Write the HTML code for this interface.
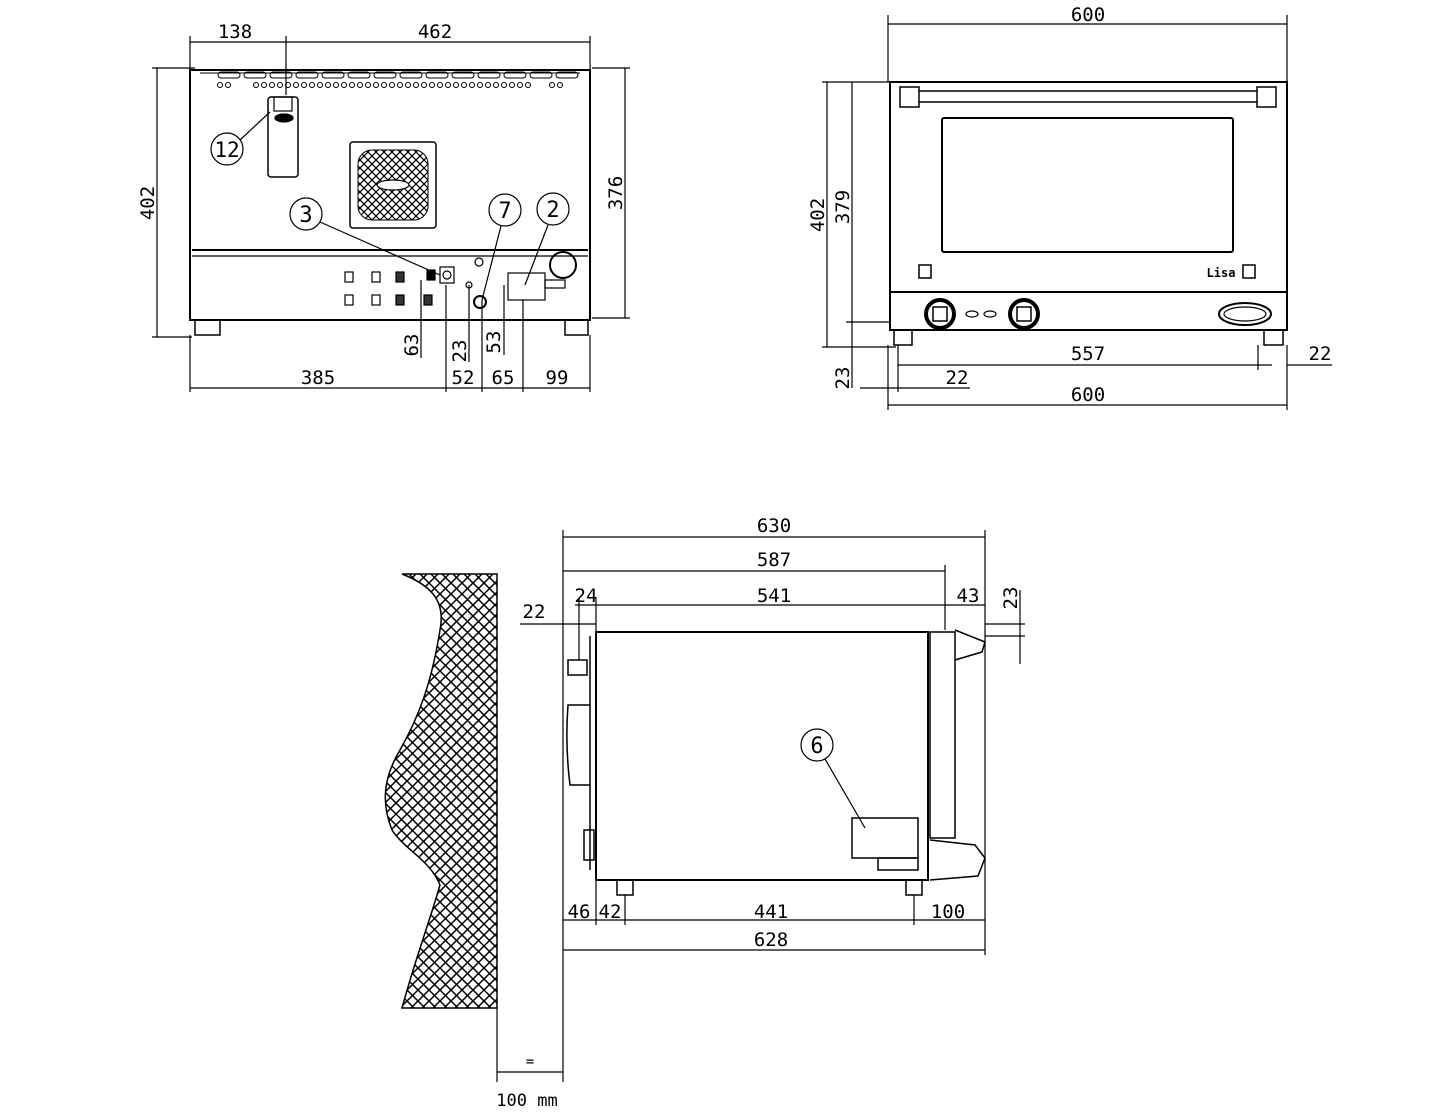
<!DOCTYPE html>
<html><head><meta charset="utf-8"><style>
html,body{margin:0;padding:0;background:#fff}
svg{display:block}
text{font-family:"DejaVu Sans Mono","Liberation Mono",monospace;font-size:19px;fill:#000}
</style></head><body>
<svg width="1445" height="1117" viewBox="0 0 1445 1117" xmlns="http://www.w3.org/2000/svg">
<defs>
<pattern id="hx" width="11" height="11" patternUnits="userSpaceOnUse">
<path d="M0 0L11 11M11 0L0 11" stroke="#000" stroke-width="1.5"/>
</pattern>
<pattern id="hf" width="8" height="8" patternUnits="userSpaceOnUse">
<path d="M0 0L8 8M8 0L0 8" stroke="#000" stroke-width="1.2"/>
</pattern>
</defs>
<g fill="none" stroke="#000" stroke-width="1.2">
<rect x="190" y="70" width="400" height="250" stroke-width="2"/>
<line x1="192" y1="250" x2="588" y2="250" stroke-width="2"/>
<line x1="192" y1="256" x2="588" y2="256"/>
<g stroke-width="1">
<path d="M200 73 H580"/>
<rect x="218" y="72" width="22" height="6" rx="3"/><rect x="244" y="72" width="22" height="6" rx="3"/><rect x="270" y="72" width="22" height="6" rx="3"/><rect x="296" y="72" width="22" height="6" rx="3"/><rect x="322" y="72" width="22" height="6" rx="3"/><rect x="348" y="72" width="22" height="6" rx="3"/><rect x="374" y="72" width="22" height="6" rx="3"/><rect x="400" y="72" width="22" height="6" rx="3"/><rect x="426" y="72" width="22" height="6" rx="3"/><rect x="452" y="72" width="22" height="6" rx="3"/><rect x="478" y="72" width="22" height="6" rx="3"/><rect x="504" y="72" width="22" height="6" rx="3"/><rect x="530" y="72" width="22" height="6" rx="3"/><rect x="556" y="72" width="22" height="6" rx="3"/>
</g>
<g stroke-width="1">
<circle cx="220" cy="85" r="2.5"/><circle cx="228" cy="85" r="2.5"/>
<circle cx="256" cy="85" r="2.5"/><circle cx="264" cy="85" r="2.5"/><circle cx="272" cy="85" r="2.5"/><circle cx="280" cy="85" r="2.5"/><circle cx="288" cy="85" r="2.5"/><circle cx="296" cy="85" r="2.5"/><circle cx="304" cy="85" r="2.5"/><circle cx="312" cy="85" r="2.5"/><circle cx="320" cy="85" r="2.5"/><circle cx="328" cy="85" r="2.5"/><circle cx="336" cy="85" r="2.5"/><circle cx="344" cy="85" r="2.5"/><circle cx="352" cy="85" r="2.5"/><circle cx="360" cy="85" r="2.5"/><circle cx="368" cy="85" r="2.5"/><circle cx="376" cy="85" r="2.5"/><circle cx="384" cy="85" r="2.5"/><circle cx="392" cy="85" r="2.5"/><circle cx="400" cy="85" r="2.5"/><circle cx="408" cy="85" r="2.5"/><circle cx="416" cy="85" r="2.5"/><circle cx="424" cy="85" r="2.5"/><circle cx="432" cy="85" r="2.5"/><circle cx="440" cy="85" r="2.5"/><circle cx="448" cy="85" r="2.5"/><circle cx="456" cy="85" r="2.5"/><circle cx="464" cy="85" r="2.5"/><circle cx="472" cy="85" r="2.5"/><circle cx="480" cy="85" r="2.5"/><circle cx="488" cy="85" r="2.5"/><circle cx="496" cy="85" r="2.5"/><circle cx="504" cy="85" r="2.5"/><circle cx="512" cy="85" r="2.5"/><circle cx="520" cy="85" r="2.5"/><circle cx="528" cy="85" r="2.5"/>
<circle cx="552" cy="85" r="2.5"/><circle cx="560" cy="85" r="2.5"/>
</g>
<rect x="268" y="97" width="30" height="80" rx="3" stroke-width="1.5"/>
<rect x="274" y="97" width="18" height="14"/>
<ellipse cx="284" cy="118" rx="9" ry="4" fill="#000"/>
<circle cx="227" cy="149" r="16"/><line x1="240" y1="140" x2="270" y2="112"/>
<rect x="350" y="142" width="86" height="86" rx="3" stroke-width="1.5"/>
<rect x="358" y="150" width="70" height="70" rx="14" fill="url(#hf)" stroke-width="1"/>
<ellipse cx="393" cy="185" rx="16" ry="5" fill="#fff"/>
<rect x="345" y="272" width="8" height="10"/><rect x="372" y="272" width="8" height="10"/>
<rect x="396" y="272" width="8" height="10" fill="#333"/><rect x="345" y="295" width="8" height="10"/><rect x="372" y="295" width="8" height="10"/><rect x="396" y="295" width="8" height="10" fill="#333"/><rect x="424" y="295" width="8" height="10" fill="#333"/>
<rect x="440" y="267" width="14" height="16"/><circle cx="447" cy="275" r="4"/>
<rect x="427" y="270" width="8" height="10" fill="#000"/>
<circle cx="480" cy="302" r="6" stroke-width="2"/>
<circle cx="479" cy="262" r="4"/><circle cx="469" cy="285" r="3"/>
<rect x="508" y="273" width="37" height="27"/>
<rect x="545" y="280" width="20" height="8"/>
<circle cx="563" cy="265" r="13" stroke-width="2"/>
<circle cx="306" cy="214" r="16"/><line x1="320" y1="222" x2="440" y2="275"/>
<circle cx="505" cy="210" r="16"/><line x1="501" y1="226" x2="482" y2="300"/>
<circle cx="553" cy="209" r="16"/><line x1="548" y1="225" x2="525" y2="285"/>
<rect x="195" y="320" width="25" height="15" stroke-width="1.5"/>
<rect x="565" y="320" width="23" height="15" stroke-width="1.5"/>
<line x1="190" y1="42" x2="590" y2="42"/>
<line x1="190" y1="36" x2="190" y2="70"/><line x1="286" y1="36" x2="286" y2="95"/><line x1="590" y1="36" x2="590" y2="70"/>
<line x1="157" y1="68" x2="157" y2="337"/><line x1="152" y1="68" x2="195" y2="68"/><line x1="152" y1="337" x2="192" y2="337"/>
<line x1="625" y1="68" x2="625" y2="318"/><line x1="592" y1="68" x2="630" y2="68"/><line x1="592" y1="318" x2="630" y2="318"/>
<line x1="190" y1="388" x2="590" y2="388"/>
<line x1="190" y1="335" x2="190" y2="392"/><line x1="446" y1="285" x2="446" y2="392"/><line x1="482" y1="300" x2="482" y2="392"/><line x1="523" y1="300" x2="523" y2="392"/><line x1="590" y1="335" x2="590" y2="392"/>
<line x1="421" y1="280" x2="421" y2="358"/><line x1="469" y1="285" x2="469" y2="362"/><line x1="504" y1="285" x2="504" y2="355"/>
<rect x="890" y="82" width="397" height="210" stroke-width="2"/>
<rect x="890" y="292" width="397" height="38" stroke-width="2"/>
<rect x="900" y="87" width="19" height="20" stroke-width="1.5"/><rect x="1257" y="87" width="19" height="20" stroke-width="1.5"/>
<line x1="919" y1="91" x2="1257" y2="91" stroke-width="1.5"/><line x1="919" y1="102" x2="1257" y2="102" stroke-width="1.5"/>
<rect x="942" y="118" width="291" height="134" rx="2" stroke-width="2"/>
<rect x="919" y="265" width="12" height="13" stroke-width="1.5"/><rect x="1243" y="265" width="12" height="13" stroke-width="1.5"/>
<circle cx="940" cy="314" r="14" stroke-width="4"/><rect x="933" y="307" width="14" height="14" stroke-width="1.5"/>
<circle cx="1024" cy="314" r="14" stroke-width="4"/><rect x="1017" y="307" width="14" height="14" stroke-width="1.5"/>
<ellipse cx="972" cy="314" rx="6" ry="3"/><ellipse cx="990" cy="314" rx="6" ry="3"/>
<ellipse cx="1245" cy="314" rx="26" ry="11" stroke-width="2"/><ellipse cx="1245" cy="314" rx="21" ry="7"/>
<rect x="894" y="330" width="18" height="15" stroke-width="1.5"/><rect x="1264" y="330" width="19" height="15" stroke-width="1.5"/>
<line x1="888" y1="24" x2="1287" y2="24"/><line x1="888" y1="15" x2="888" y2="82"/><line x1="1287" y1="15" x2="1287" y2="82"/>
<line x1="827" y1="82" x2="827" y2="347"/><line x1="822" y1="82" x2="890" y2="82"/><line x1="822" y1="347" x2="896" y2="347"/>
<line x1="852" y1="82" x2="852" y2="388"/><line x1="846" y1="322" x2="890" y2="322"/>
<line x1="888" y1="345" x2="888" y2="410"/><line x1="1287" y1="345" x2="1287" y2="410"/>
<line x1="898" y1="345" x2="898" y2="392"/><line x1="1258" y1="345" x2="1258" y2="370"/>
<line x1="898" y1="365" x2="1272" y2="365"/><line x1="1287" y1="365" x2="1332" y2="365"/>
<line x1="860" y1="388" x2="970" y2="388"/>
<line x1="888" y1="405" x2="1287" y2="405"/>
<path d="M402 574 H497 V1008 H402 C415 960 430 920 440 885 C430 860 405 850 392 830 C380 800 385 775 400 750 C420 715 432 680 440 630 C446 600 430 585 402 574 Z" fill="url(#hx)" stroke-width="1.5"/>
<line x1="497" y1="1008" x2="497" y2="1082"/>
<line x1="563" y1="530" x2="563" y2="1082"/>
<line x1="497" y1="1072" x2="563" y2="1072"/>
<rect x="596" y="632" width="332" height="248" stroke-width="2"/>
<rect x="930" y="632" width="25" height="206" stroke-width="1.5"/>
<path d="M955 630 L985 642 L982 652 L955 660" stroke-width="1.5"/>
<path d="M930 840 L975 845 L985 858 L978 876 L930 880" stroke-width="1.5"/>
<path d="M590 636 V870 M568 660 H587 V675 H568 Z M568 705 H590 V785 H570 Q565 745 568 705 Z M584 830 H594 V860 H584 Z" stroke-width="1.5"/>
<rect x="852" y="818" width="66" height="40" stroke-width="1.5"/><rect x="878" y="858" width="40" height="12" stroke-width="1.5"/>
<circle cx="817" cy="745" r="16"/><line x1="825" y1="759" x2="865" y2="828"/>
<rect x="617" y="880" width="16" height="15" stroke-width="1.5"/><rect x="906" y="880" width="16" height="15" stroke-width="1.5"/>
<line x1="985" y1="530" x2="985" y2="955"/><line x1="945" y1="565" x2="945" y2="630"/>
<line x1="563" y1="537" x2="985" y2="537"/>
<line x1="563" y1="571" x2="945" y2="571"/>
<line x1="575" y1="605" x2="985" y2="605"/><line x1="596" y1="598" x2="596" y2="632"/><line x1="579" y1="598" x2="579" y2="660"/>
<line x1="520" y1="624" x2="596" y2="624"/>
<line x1="985" y1="624" x2="1025" y2="624"/><line x1="985" y1="636" x2="1025" y2="636"/><line x1="1020" y1="590" x2="1020" y2="664"/>
<line x1="563" y1="920" x2="985" y2="920"/><line x1="596" y1="880" x2="596" y2="925"/><line x1="625" y1="895" x2="625" y2="925"/><line x1="914" y1="895" x2="914" y2="925"/>
<line x1="563" y1="950" x2="985" y2="950"/>
</g>
<g>
<text x="235" y="38" text-anchor="middle">138</text><text x="435" y="38" text-anchor="middle">462</text>
<text transform="translate(154,203) rotate(-90)" text-anchor="middle">402</text>
<text transform="translate(622,193) rotate(-90)" text-anchor="middle">376</text>
<text transform="translate(418,345) rotate(-90)" text-anchor="middle">63</text>
<text transform="translate(466,351) rotate(-90)" text-anchor="middle">23</text>
<text transform="translate(500,342) rotate(-90)" text-anchor="middle">53</text>
<text x="318" y="384" text-anchor="middle">385</text><text x="463" y="384" text-anchor="middle">52</text><text x="503" y="384" text-anchor="middle">65</text><text x="557" y="384" text-anchor="middle">99</text>
<text x="227" y="157" text-anchor="middle" style="font-size:21px">12</text><text x="306" y="222" text-anchor="middle" style="font-size:22px">3</text><text x="505" y="218" text-anchor="middle" style="font-size:22px">7</text><text x="553" y="217" text-anchor="middle" style="font-size:22px">2</text>
<text x="1088" y="21" text-anchor="middle">600</text>
<text transform="translate(824,215) rotate(-90)" text-anchor="middle">402</text>
<text transform="translate(849,207) rotate(-90)" text-anchor="middle">379</text>
<text transform="translate(849,378) rotate(-90)" text-anchor="middle">23</text>
<text x="1088" y="360" text-anchor="middle">557</text><text x="1320" y="360" text-anchor="middle">22</text>
<text x="957" y="384" text-anchor="middle">22</text><text x="1088" y="401" text-anchor="middle">600</text>
<text x="1221" y="277" text-anchor="middle" style="font-size:12px;font-weight:bold">Lisa</text>
<text x="774" y="532" text-anchor="middle">630</text><text x="774" y="566" text-anchor="middle">587</text><text x="774" y="602" text-anchor="middle">541</text>
<text x="586" y="602" text-anchor="middle">24</text><text x="968" y="602" text-anchor="middle">43</text><text x="534" y="618" text-anchor="middle">22</text>
<text transform="translate(1017,598) rotate(-90)" text-anchor="middle">23</text>
<text x="817" y="753" text-anchor="middle" style="font-size:22px">6</text>
<text x="579" y="918" text-anchor="middle">46</text><text x="610" y="918" text-anchor="middle">42</text><text x="771" y="918" text-anchor="middle">441</text><text x="948" y="918" text-anchor="middle">100</text>
<text x="771" y="946" text-anchor="middle">628</text>
<text x="530" y="1066" text-anchor="middle" style="font-size:14px">=</text>
<text x="527" y="1106" text-anchor="middle" style="font-size:17px">100 mm</text>
</g>
</svg>
</body></html>
